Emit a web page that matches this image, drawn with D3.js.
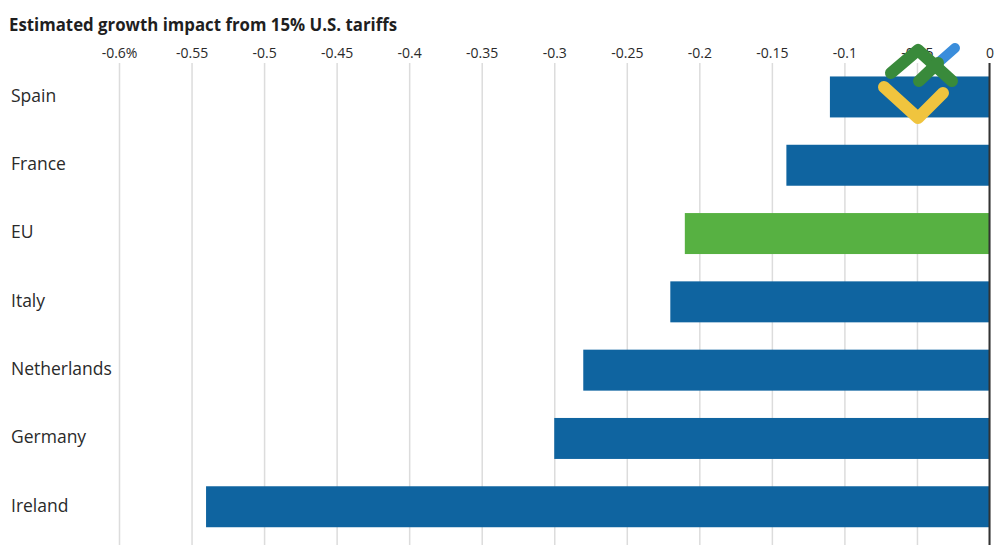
<!DOCTYPE html>
<html lang="en">
	<head>
		<meta charset="utf-8">
		<script type="text/javascript" src="https://d3js.org/d3.v7.min.js"></script>
		<style>
			body { margin: 0; background: #fff; }
			text { font-family: "Open Sans", "DejaVu Sans", sans-serif; }
		</style>
	</head>
	<body>
		<div id="chart"></div>
		<script type="text/javascript">
		// Data
		let countries = ["Spain", "France", "EU", "Italy", "Netherlands", "Germany", "Ireland"];
		let impact    = [-0.11, -0.14, -0.21, -0.22, -0.28, -0.30, -0.54];
		let tickValues = [-0.6, -0.55, -0.5, -0.45, -0.4, -0.35, -0.3, -0.25, -0.2, -0.15, -0.1, -0.05, 0];
		let tickLabels = ["-0.6%", "-0.55", "-0.5", "-0.45", "-0.4", "-0.35", "-0.3", "-0.25", "-0.2", "-0.15", "-0.1", "-0.05", "0"];
		let highlight = "EU";
		let title = "Estimated growth impact from 15% U.S. tariffs";

		let dataForChart = countries.map((c, i) => ({ key: c, value: impact[i] }));

		function drawChart() {
			let svgWidth = 1000, svgHeight = 545;
			let plotTop = 63, plotBottom = 545;

			let svg = d3.select("#chart")
			            .html(null)
			            .append("svg")
			            .attr("width", svgWidth)
			            .attr("height", svgHeight);

			// title
			svg.append("text")
			   .attr("x", 9)
			   .attr("y", 31)
			   .attr("font-size", "18px")
			   .attr("font-weight", "bold")
			   .attr("fill", "#1f1f1f")
			   .attr("textLength", 388)
			   .attr("lengthAdjust", "spacingAndGlyphs")
			   .text(title);

			let x = d3.scaleLinear()
			          .domain([-0.6, 0])
			          .range([119, 989.5]);

			let y = d3.scaleBand()
			          .domain(countries)
			          .range([62.8, 540.9])
			          .paddingInner(0.4)
			          .paddingOuter(0.2);

			// top axis with gridlines running down
			let axis = svg.append("g")
			              .attr("transform", "translate(0," + plotTop + ")")
			              .call(d3.axisTop(x)
			                      .tickValues(tickValues)
			                      .tickFormat((d, i) => tickLabels[i])
			                      .tickSizeInner(-(plotBottom - plotTop))
			                      .tickSizeOuter(0)
			                      .tickPadding(5));
			axis.select(".domain").remove();
			axis.selectAll("line")
			    .attr("stroke", "#dcdcdc")
			    .attr("stroke-width", 1.5);
			axis.selectAll("text")
			    .attr("font-size", "14px")
			    .attr("fill", "#2a2a2a");

			// bars
			svg.selectAll("rect.bar")
			   .data(dataForChart)
			   .enter()
			   .append("rect")
			   .attr("class", "bar")
			   .attr("x", d => x(d.value))
			   .attr("y", d => y(d.key))
			   .attr("width", d => x(0) - x(d.value))
			   .attr("height", y.bandwidth())
			   .attr("fill", d => d.key === highlight ? "#57b142" : "#0f64a0");

			// zero line
			svg.append("line")
			   .attr("x1", x(0)).attr("x2", x(0))
			   .attr("y1", plotTop).attr("y2", plotBottom)
			   .attr("stroke", "#333")
			   .attr("stroke-width", 2);

			// category labels
			svg.selectAll("text.label")
			   .data(dataForChart)
			   .enter()
			   .append("text")
			   .attr("class", "label")
			   .attr("x", 11)
			   .attr("y", d => y(d.key) + y.bandwidth() / 2)
			   .attr("dy", "0.28em")
			   .attr("font-size", "17.5px")
			   .attr("fill", "#2a2a2a")
			   .text(d => d.key);

			// watermark logo
			let logo = svg.append("g")
			              .attr("fill", "none")
			              .attr("stroke-linecap", "round")
			              .attr("stroke-linejoin", "round");
			let line = d3.line();
			logo.append("path")
			    .attr("d", line([[930, 70], [955, 48]]))
			    .attr("stroke", "#3a8ddb")
			    .attr("stroke-width", 10);
			logo.append("path")
			    .attr("d", line([[891, 73], [918, 50], [952, 81]]))
			    .attr("stroke", "#398a3b")
			    .attr("stroke-width", 12);
			logo.append("path")
			    .attr("d", line([[919, 81], [938, 63]]))
			    .attr("stroke", "#398a3b")
			    .attr("stroke-width", 12);
			logo.append("path")
			    .attr("d", line([[884, 87], [918, 118], [943, 93]]))
			    .attr("stroke", "#f0c43e")
			    .attr("stroke-width", 12);
		}

		drawChart();
		</script>
	</body>
</html>
